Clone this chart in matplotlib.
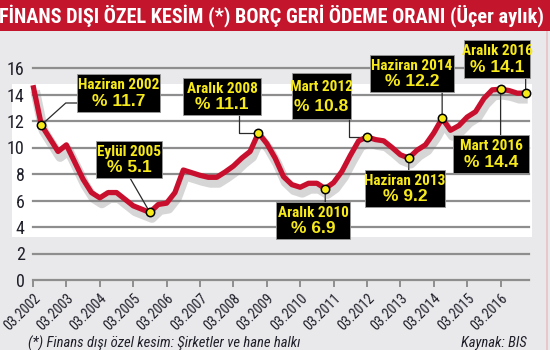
import matplotlib
matplotlib.use("Agg")
import matplotlib.pyplot as plt
from matplotlib import font_manager as fm
from matplotlib.patches import Rectangle
import matplotlib.patheffects as pe

# ---------------- data ----------------
title = "FİNANS DIŞI ÖZEL KESİM (*) BORÇ GERİ ÖDEME ORANI (Üçer aylık)"
footnote = "(*) Finans dışı özel kesim: Şirketler ve hane halkı"
source = "Kaynak: BIS"

years = list(range(2002, 2017))
xtick_labels = [f"03.{y}" for y in years]
yticks = [0, 2, 4, 6, 8, 10, 12, 14, 16]
quarter_months = [3, 6, 9, 12]

# quarterly values, Mar 2002 ... Dec 2016
values = [
    14.7, 11.7, 10.7, 9.7,     # 2002
    10.2, 8.9, 7.6, 6.6,       # 2003
    6.2, 6.6, 6.6, 6.1,        # 2004
    5.6, 5.35, 5.1, 5.7,       # 2005
    5.8, 6.6, 8.3, 8.1,        # 2006
    7.9, 7.75, 7.75, 8.15,     # 2007
    8.6, 9.2, 9.7, 11.1,       # 2008
    10.3, 9.2, 7.8, 7.2,       # 2009
    7.0, 7.3, 7.3, 6.9,        # 2010
    7.35, 8.2, 9.4, 10.5,      # 2011
    10.8, 10.6, 10.5, 10.0,    # 2012
    9.45, 9.2, 9.8, 10.2,      # 2013
    11.1, 12.2, 11.3, 11.65,   # 2014
    12.3, 12.7, 13.7, 14.35,   # 2015
    14.4, 14.3, 14.1, 14.1,    # 2016
]

# annotated points: (name, label, index into the quarterly series)
ann_names = ["Haziran 2002", "Eylül 2005", "Aralık 2008", "Aralık 2010",
             "Mart 2012", "Haziran 2013", "Haziran 2014", "Mart 2016", "Aralık 2016"]
ann_labels = ["% 11.7", "% 5.1", "% 11.1", "% 6.9",
              "% 10.8", "% 9.2", "% 12.2", "% 14.4", "% 14.1"]
ann_index = [1, 14, 27, 35, 40, 45, 49, 56, 59]

# ---------------- layout / style ----------------
W, H, DPI = 550, 350, 100
BG = "#e9e9eb"
TITLE_RED = "#c3162d"
RED = "#c8102e"
GRID = "#8e8e8e"
YEL = "#f7ea1a"
TXT = "#1f1f2a"

names = {f.name for f in fm.fontManager.ttflist}
def pick(cands, default="DejaVu Sans"):
    for c in cands:
        if c in names:
            return c
    return default

COND = pick(["Liberation Sans Narrow", "Roboto Condensed", "Open Sans Condensed",
             "DejaVu Sans"])
BOLD = pick(["Liberation Sans", "Arial", "DejaVu Sans"])
FAM_C = [COND, "DejaVu Sans"]

fig = plt.figure(figsize=(W / DPI, H / DPI), dpi=DPI, facecolor=BG)

def fx(x):
    return x / W

def fy(y):
    return 1 - y / H

# white panel behind the plot
fig.add_artist(Rectangle((fx(12), fy(237)), (532 - 12) / W, (237 - 84) / H,
                         transform=fig.transFigure, fc="white", ec="none", zorder=-5))

# title bar
fig.add_artist(Rectangle((0, fy(31)), 1, 31 / H, transform=fig.transFigure,
                         fc=TITLE_RED, ec="none", zorder=1))

ax_left, ax_right, ax_top, ax_bottom = 33, 529, 68, 280
ax = fig.add_axes([fx(ax_left), fy(ax_bottom), (ax_right - ax_left) / W,
                   (ax_bottom - ax_top) / H])
ax.set_facecolor("none")

times = [y + (m - 3) / 12 for y in years for m in quarter_months]
px_per_year = 33.4
ax.set_xlim(years[0], years[0] + (ax_right - ax_left) / px_per_year)
ax.set_ylim(yticks[0], yticks[-1])

for v in yticks:
    ax.axhline(v, color=GRID, lw=1.6, zorder=1, clip_on=False)

for s in ax.spines.values():
    s.set_visible(False)

ax.set_yticks(yticks)
ax.set_yticklabels([str(v) for v in yticks], fontsize=13, color=TXT,
                   family=FAM_C, fontstretch="condensed")
ax.tick_params(axis="y", length=0, pad=6)
ax.set_xticks(years)
ax.set_xticklabels(xtick_labels, rotation=45, ha="right", va="top",
                   rotation_mode="anchor", fontsize=10.2, color=TXT,
                   family=FAM_C, fontstretch="condensed")
ax.tick_params(axis="x", length=5, width=1.4, color=GRID, direction="out", pad=3)

# main line with soft shadow
ax.plot(times, values, color=RED, lw=3.8, solid_joinstyle="round",
        solid_capstyle="butt", zorder=4, clip_on=False,
        path_effects=[pe.SimpleLineShadow(offset=(1.5, -4), shadow_color="#7a7a7a",
                                          alpha=0.3, linewidth=7),
                      pe.Normal()])

# annotation layout (image pixel coordinates)
boxes = [  # left, top, right, bottom
    (77, 74, 160, 112),
    (96, 141, 162, 178),
    (183, 78, 261, 115),
    (276, 202, 350, 239),
    (292, 73, 351, 119),
    (365, 170, 445, 207),
    (370, 55, 454, 92),
    (453, 135, 529, 173),
    (464, 40, 530, 78),
]
conn_start = [
    ((77, 103), "angle,angleA=0,angleB=42,rad=0"),
    ((130, 178), "arc3"),
    ((239, 115), "angle,angleA=90,angleB=0,rad=0"),
    (None, "v"),
    ((349, 119), "angle,angleA=90,angleB=0,rad=0"),
    (None, "v"),
    (None, "v"),
    (None, "v"),
    (None, "v"),
]

for i, (nm, lb, idx) in enumerate(zip(ann_names, ann_labels, ann_index)):
    t, v = times[idx], values[idx]
    l, tp, r, b = boxes[i]
    start, cs = conn_start[i]
    if start is None:
        xpix, ypix = ax.transData.transform((t, v))
        ytop_img = H - ypix
        edge = tp if tp > ytop_img else b
        cs = "arc3"
        xt = (fx(xpix), fy(edge))
    else:
        xt = (fx(start[0]), fy(start[1]))
    ax.annotate("", xy=(t, v), xycoords="data", xytext=xt,
                textcoords="figure fraction", annotation_clip=False,
                arrowprops=dict(arrowstyle="-", color="#2a2a2a", lw=0.9,
                                shrinkA=0, shrinkB=0, connectionstyle=cs),
                zorder=3)
    ax.plot([t], [v], "o", ms=6, mfc=YEL, mec="black", mew=1.1, zorder=6,
            clip_on=False)
    fig.add_artist(Rectangle((fx(l), fy(b)), (r - l) / W, (b - tp) / H,
                             transform=fig.transFigure, fc="black", ec="#9a9a9a",
                             lw=0.6, zorder=10))
    cx = (l + r) / 2
    hbox = b - tp
    fig.text(fx(cx), fy(tp + hbox * 0.30), nm, ha="center", va="center",
             fontsize=11, fontweight="bold", color=YEL, family=FAM_C,
             fontstretch="condensed", zorder=11)
    fig.text(fx(cx), fy(tp + hbox * 0.72), lb, ha="center", va="center",
             fontsize=12.5, fontweight="bold", color=YEL, family=[BOLD, "DejaVu Sans"],
             zorder=11)

# title, fitted to the bar width
tt = fig.text(fx(-1), fy(16), title, ha="left", va="center", fontsize=18,
              fontweight="bold", color="white", family=FAM_C,
              fontstretch="condensed", zorder=12)
renderer = fig.canvas.get_renderer()
wpx = tt.get_window_extent(renderer).width
tt.set_fontsize(18 * 546 / wpx)

# footer
fig.text(fx(28), fy(343), footnote, ha="left", va="center", fontsize=10.5,
         style="italic", color=TXT, family=FAM_C, fontstretch="condensed")
fig.text(fx(527), fy(343), source, ha="right", va="center", fontsize=10.5,
         style="italic", color=TXT, family=FAM_C, fontstretch="condensed")

# faint right border
fig.add_artist(Rectangle((fx(546), 0), 1.5 / W, fy(31), transform=fig.transFigure,
                         fc="#e9c8cc", ec="none", zorder=-4))

fig.savefig("out.png", dpi=DPI, facecolor=BG)
